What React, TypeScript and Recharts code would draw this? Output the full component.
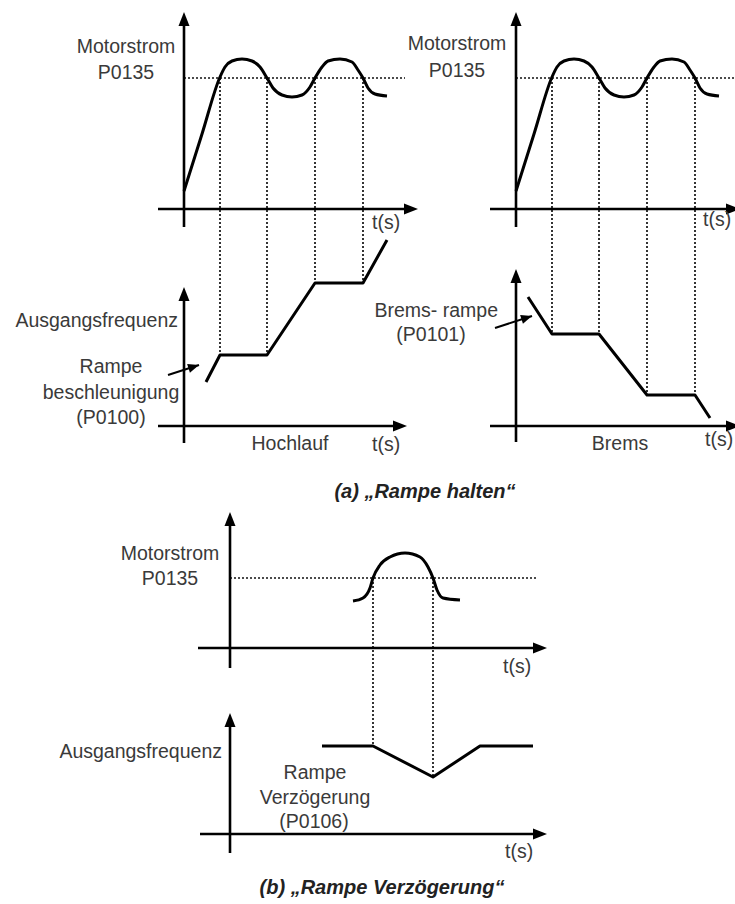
import React from 'react';
import { ComposedChart, Line, Scatter, XAxis, YAxis } from 'recharts';

const W = 735;
const H = 904;

// Motorstrom (a): Zeit t und Strom i in Achseneinheiten
const waveT = [0, 18, 36, 41, 48, 58, 68, 76, 83, 89, 98, 108, 118, 126, 131, 138, 144, 156, 168, 174, 179, 184, 191, 203];
const waveI = [18, 75, 132, 142, 148, 150, 148, 142, 131, 121, 114, 112, 114, 122, 131, 142, 148, 150, 147, 139, 131, 121, 115, 113];
const limitI = 131; // P0135
const crossT = [36, 83, 131, 179];

// Ausgangsfrequenz (a)
const hochlaufT = [22, 36, 83, 131, 179, 203];
const hochlaufF = [44, 71, 71, 143, 143, 186];
const bremsT = [12, 36, 83, 131, 179, 194];
const bremsF = [129, 92, 92, 31, 31, 8];

// (b) Rampe Verzögerung
const pulseT = [123, 133, 140, 143, 150, 160, 175, 190, 198, 203, 207, 213, 230];
const pulseI = [47, 50, 60, 70, 83, 91, 95, 91, 81, 70, 58, 50, 48];
const pulseLimitI = 70;
const pulseCrossT = [143, 203];
const verzT = [92, 143, 203, 250, 303];
const verzF = [88, 88, 57, 88, 88];

type Panel = { x0: number; y0: number; xFrom: number; xTo: number; yFrom: number; yTo: number };

// lage der einzelnen achsenkreuze (px)
const panels: Record<string, Panel> = {
  stromL: { x0: 184, y0: 209, xFrom: -26, xTo: 234, yFrom: -18, yTo: 197 },
  stromR: { x0: 516, y0: 209, xFrom: -26, xTo: 224, yFrom: -18, yTo: 197 },
  freqL: { x0: 184, y0: 426, xFrom: -26, xTo: 223, yFrom: -17, yTo: 139 },
  freqR: { x0: 516, y0: 426, xFrom: -26, xTo: 224, yFrom: -16, yTo: 157 },
  stromB: { x0: 230, y0: 648, xFrom: -32, xTo: 317, yFrom: -20, yTo: 136 },
  freqB: { x0: 230, y0: 834, xFrom: -30, xTo: 317, yFrom: -19, yTo: 121 },
};

type Pt = { x: number; y: number };

const pt = (p: Panel, t: number, v: number): Pt => ({ x: p.x0 + t, y: p.y0 - v });
const toPts = (p: Panel, ts: number[], vs: number[]) => ts.map((t, i) => pt(p, t, vs[i]));
const valueAt = (ts: number[], vs: number[], t: number) => vs[ts.indexOf(t)];

const curves: { pts: Pt[]; smooth: boolean }[] = [
  { pts: toPts(panels.stromL, waveT, waveI), smooth: true },
  { pts: toPts(panels.stromR, waveT, waveI), smooth: true },
  { pts: toPts(panels.freqL, hochlaufT, hochlaufF), smooth: false },
  { pts: toPts(panels.freqR, bremsT, bremsF), smooth: false },
  { pts: toPts(panels.stromB, pulseT, pulseI), smooth: true },
  { pts: toPts(panels.freqB, verzT, verzF), smooth: false },
];

const dotted: Pt[][] = [
  [pt(panels.stromL, 0, limitI), pt(panels.stromL, 221, limitI)],
  [pt(panels.stromR, 0, limitI), pt(panels.stromR, 224, limitI)],
  [pt(panels.stromB, 0, pulseLimitI), pt(panels.stromB, 307, pulseLimitI)],
  ...crossT.map((t) => [pt(panels.stromL, t, limitI), pt(panels.freqL, t, valueAt(hochlaufT, hochlaufF, t))]),
  ...crossT.map((t) => [pt(panels.stromR, t, limitI), pt(panels.freqR, t, valueAt(bremsT, bremsF, t))]),
  ...pulseCrossT.map((t) => [pt(panels.stromB, t, pulseLimitI), pt(panels.freqB, t, valueAt(verzT, verzF, t))]),
];

const axes: Pt[][] = [];
const heads: { x: number; y: number; angle: number; len: number; half: number }[] = [];
Object.values(panels).forEach((p) => {
  axes.push([pt(p, p.xFrom, 0), pt(p, p.xTo - 8, 0)]);
  axes.push([pt(p, 0, p.yFrom), pt(p, 0, p.yTo - 8)]);
  heads.push({ ...pt(p, p.xTo, 0), angle: 0, len: 14, half: 5.5 });
  heads.push({ ...pt(p, 0, p.yTo), angle: -90, len: 14, half: 5.5 });
});

// hinweispfeile
const pointers: Pt[][] = [
  [{ x: 168, y: 375 }, { x: 199, y: 365 }],
  [{ x: 495, y: 328 }, { x: 532, y: 316 }],
];
pointers.forEach(([a, b]) => {
  heads.push({ x: b.x, y: b.y, angle: (Math.atan2(b.y - a.y, b.x - a.x) * 180) / Math.PI, len: 11, half: 4.5 });
});

type Lbl = { x: number; y: number; text: string; anchor: 'start' | 'middle' | 'end'; caption?: boolean };

const labels: Lbl[] = [
  { x: 126, y: 53, text: 'Motorstrom', anchor: 'middle' },
  { x: 126, y: 79, text: 'P0135', anchor: 'middle' },
  { x: 457, y: 50, text: 'Motorstrom', anchor: 'middle' },
  { x: 457, y: 77, text: 'P0135', anchor: 'middle' },
  { x: 372, y: 229, text: 't(s)', anchor: 'start' },
  { x: 703, y: 226, text: 't(s)', anchor: 'start' },
  { x: 178, y: 327, text: 'Ausgangsfrequenz', anchor: 'end' },
  { x: 111, y: 373, text: 'Rampe', anchor: 'middle' },
  { x: 111, y: 399, text: 'beschleunigung', anchor: 'middle' },
  { x: 111, y: 424, text: '(P0100)', anchor: 'middle' },
  { x: 290, y: 450, text: 'Hochlauf', anchor: 'middle' },
  { x: 372, y: 451, text: 't(s)', anchor: 'start' },
  { x: 498, y: 317, text: 'Brems- rampe', anchor: 'end' },
  { x: 431, y: 341, text: '(P0101)', anchor: 'middle' },
  { x: 620, y: 450, text: 'Brems', anchor: 'middle' },
  { x: 705, y: 446, text: 't(s)', anchor: 'start' },
  { x: 425, y: 498, text: '(a) \u201eRampe halten\u201c', anchor: 'middle', caption: true },
  { x: 170, y: 560, text: 'Motorstrom', anchor: 'middle' },
  { x: 170, y: 585, text: 'P0135', anchor: 'middle' },
  { x: 503, y: 673, text: 't(s)', anchor: 'start' },
  { x: 222, y: 758, text: 'Ausgangsfrequenz', anchor: 'end' },
  { x: 315, y: 779, text: 'Rampe', anchor: 'middle' },
  { x: 315, y: 804, text: 'Verzögerung', anchor: 'middle' },
  { x: 314, y: 828, text: '(P0106)', anchor: 'middle' },
  { x: 505, y: 858, text: 't(s)', anchor: 'start' },
  { x: 382, y: 894, text: '(b) \u201eRampe Verzögerung\u201c', anchor: 'middle', caption: true },
];

const FONT = "'Liberation Sans', Arial, Helvetica, sans-serif";

const ArrowHead = (props: any) => {
  const d = props.payload || props;
  const { cx, cy } = props;
  return (
    <polygon
      points={`0,0 ${-d.len},${-d.half} ${-d.len},${d.half}`}
      transform={`translate(${cx},${cy}) rotate(${d.angle})`}
      fill="#000"
    />
  );
};

const TextMark = (props: any) => {
  const d: Lbl = props.payload || props;
  return (
    <text
      x={props.cx}
      y={props.cy}
      textAnchor={d.anchor}
      fontFamily={FONT}
      fontSize={d.caption ? 20 : 19.5}
      fontWeight={d.caption ? 700 : 400}
      fontStyle={d.caption ? 'italic' : 'normal'}
      fill={d.caption ? '#222' : '#3a3a3a'}
    >
      {d.text}
    </text>
  );
};

export default function App() {
  return (
    <div style={{ position: 'absolute', left: 0, top: 0, width: W, height: H, background: '#fff' }}>
      <ComposedChart width={W} height={H} margin={{ top: 0, right: 0, bottom: 0, left: 0 }}>
        <XAxis type="number" dataKey="x" domain={[0, W]} hide allowDataOverflow />
        <YAxis type="number" dataKey="y" domain={[0, H]} reversed hide allowDataOverflow />
        {dotted.map((d, i) => (
          <Line
            key={`dot-${i}`}
            data={d}
            dataKey="y"
            type="linear"
            stroke="#111"
            strokeWidth={1.7}
            strokeDasharray="2 2"
            dot={false}
            activeDot={false}
            isAnimationActive={false}
          />
        ))}
        {axes.map((d, i) => (
          <Line
            key={`ax-${i}`}
            data={d}
            dataKey="y"
            type="linear"
            stroke="#000"
            strokeWidth={2.6}
            dot={false}
            activeDot={false}
            isAnimationActive={false}
          />
        ))}
        {pointers.map((d, i) => (
          <Line
            key={`ptr-${i}`}
            data={d}
            dataKey="y"
            type="linear"
            stroke="#000"
            strokeWidth={2}
            dot={false}
            activeDot={false}
            isAnimationActive={false}
          />
        ))}
        {curves.map((c, i) => (
          <Line
            key={`cv-${i}`}
            data={c.pts}
            dataKey="y"
            type={c.smooth ? 'monotone' : 'linear'}
            stroke="#000"
            strokeWidth={3}
            strokeLinejoin="round"
            dot={false}
            activeDot={false}
            isAnimationActive={false}
          />
        ))}
        <Scatter data={heads} shape={ArrowHead} isAnimationActive={false} />
        <Scatter data={labels} shape={TextMark} isAnimationActive={false} />
      </ComposedChart>
    </div>
  );
}
